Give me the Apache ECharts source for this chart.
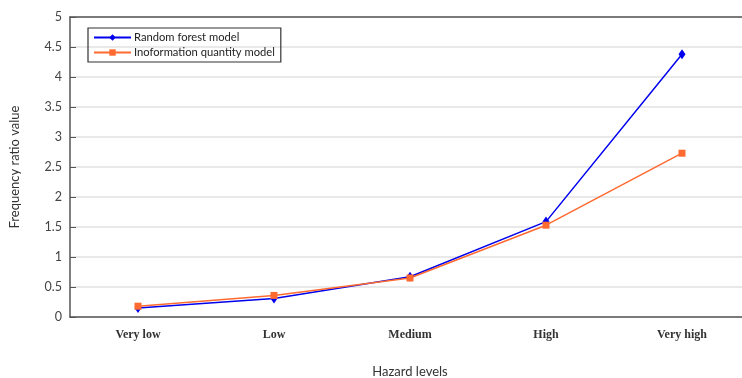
<!DOCTYPE html>
<html>
<head>
<meta charset="utf-8">
<script src="https://cdn.jsdelivr.net/npm/echarts@6/dist/echarts.min.js"></script>
<style>
  html, body { margin: 0; padding: 0; background: #fff; }
  #main { width: 742px; height: 378px; }
</style>
</head>
<body>
<div id="main"></div>
<script>
// hazard level categories
var levels = ['Very low', 'Low', 'Medium', 'High', 'Very high']
// frequency ratio values
var randomForest = [0.15, 0.31, 0.67, 1.59, 4.38]
var infoQuantity = [0.18, 0.36, 0.65, 1.53, 2.73]
var seriesNames = ['Random forest model', 'Inoformation quantity model']

var axisColor = '#555'
var option = {
  animation: false,
  grid: { left: 70, top: 17, width: 680, bottom: 61, outerBoundsMode: 'none' },
  legend: {
    data: seriesNames,
    orient: 'vertical',
    left: 88,
    top: 28,
    padding: [4, 6, 4, 5],
    itemGap: 4,
    itemWidth: 37,
    itemHeight: 8,
    borderColor: '#333',
    borderWidth: 1.2,
    textStyle: { fontFamily: 'Lato', fontSize: 11.2, color: '#222', padding: [0, 0, 0, -2] }
  },
  xAxis: [
    {
      type: 'category',
      data: levels,
      boundaryGap: true,
      name: 'Hazard levels',
      nameLocation: 'middle',
      nameGap: 48,
      nameTextStyle: { fontFamily: 'Lato', fontSize: 13, color: '#333' },
      axisLine: { lineStyle: { color: axisColor, width: 1.5 } },
      axisTick: { inside: true, length: 8, interval: 0, lineStyle: { color: '#333' } },
      axisLabel: { margin: 12, fontFamily: 'Liberation Serif', fontWeight: 'bold', fontSize: 12, color: '#333' }
    },
    {
      type: 'category',
      data: levels,
      position: 'top',
      axisLine: { lineStyle: { color: axisColor, width: 1.5 } },
      axisTick: { inside: true, length: 6, interval: 0, lineStyle: { color: '#333' } },
      axisLabel: { show: false }
    }
  ],
  yAxis: {
    type: 'value',
    min: 0,
    max: 5,
    interval: 0.5,
    name: 'Frequency ratio value',
    nameLocation: 'middle',
    nameGap: 49,
    nameTextStyle: { fontFamily: 'Lato', fontSize: 13, color: '#333' },
    axisLine: { show: true, lineStyle: { color: axisColor, width: 1.5 } },
    axisTick: { show: true, inside: true, length: 6, lineStyle: { color: axisColor } },
    axisLabel: { margin: 8, fontFamily: 'Lato', fontSize: 12.5, color: '#444' },
    splitLine: { lineStyle: { color: '#e2e2e2', width: 1.5 } }
  },
  series: [
    {
      name: seriesNames[0],
      type: 'line',
      data: randomForest,
      symbol: 'diamond',
      symbolSize: [7, 10],
      lineStyle: { color: '#0000ee', width: 1.5 },
      itemStyle: { color: '#0000ee' }
    },
    {
      name: seriesNames[1],
      type: 'line',
      data: infoQuantity,
      symbol: 'rect',
      symbolSize: 7,
      lineStyle: { color: '#ff6a30', width: 1.5 },
      itemStyle: { color: '#ff6a30' }
    }
  ]
}
var myChart = echarts.init(document.getElementById('main'))
myChart.setOption(option)
</script>
</body>
</html>
